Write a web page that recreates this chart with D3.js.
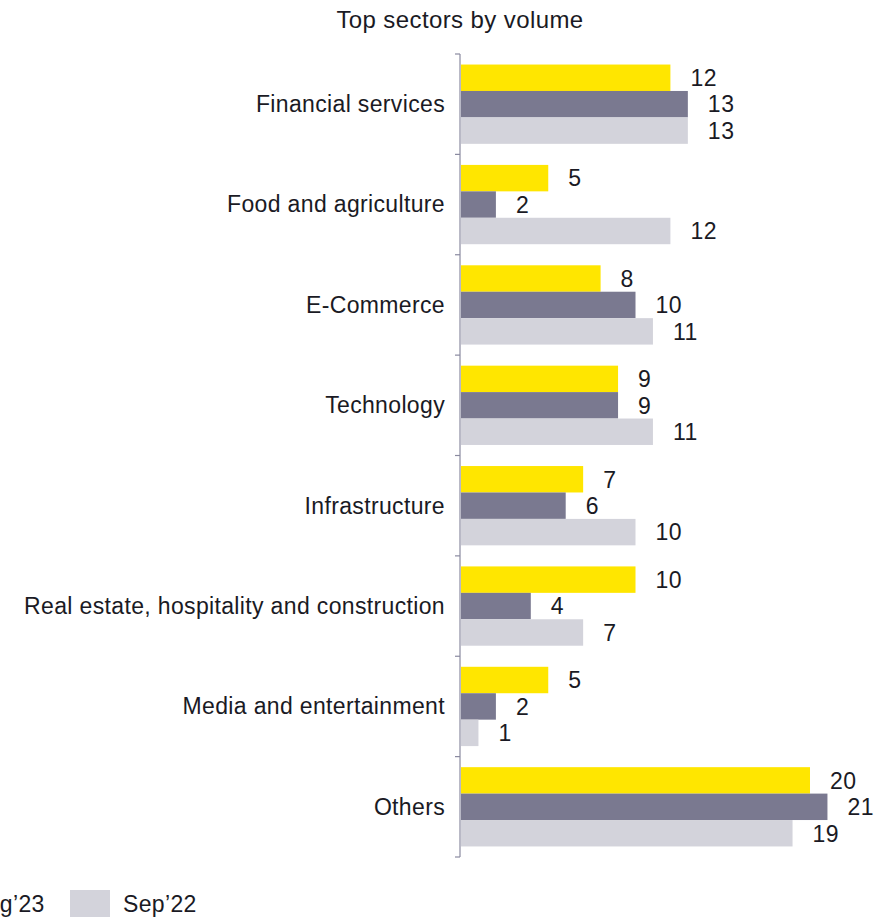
<!DOCTYPE html>
<html>
<head>
<meta charset="utf-8">
<script src="https://cdn.jsdelivr.net/npm/d3@7"></script>
<style>
  html, body { margin: 0; padding: 0; background: #fff; }
  svg { display: block; font-family: "Liberation Sans", Arial, sans-serif; }
</style>
</head>
<body>
<svg id="chart" width="888" height="920"></svg>
<script>
// Sector names (top to bottom)
const categories = [
  "Financial services",
  "Food and agriculture",
  "E-Commerce",
  "Technology",
  "Infrastructure",
  "Real estate, hospitality and construction",
  "Media and entertainment",
  "Others"
];
// Series names, in the order the bars are stacked within a group
const seriesNames = ["Sep\u201923", "Aug\u201923", "Sep\u201922"];
// Deal volume per sector for each period
const sep23 = [12, 5, 8, 9, 7, 10, 5, 20];
const aug23 = [13, 2, 10, 9, 6, 4, 2, 21];
const sep22 = [13, 12, 11, 11, 10, 7, 1, 19];
const seriesColors = ["#FFE600", "#7A7990", "#D3D3DB"];

const series = [sep23, aug23, sep22];
const svg = d3.select("#chart");
const textColor = "#1a1a24";

const margin = { top: 54, left: 460, bottom: 63 };
const plotBottom = 920 - margin.bottom;

const y0 = d3.scaleBand()
  .domain(categories)
  .range([margin.top, plotBottom])
  .paddingInner(0.21)
  .paddingOuter(0.105);

const y1 = d3.scaleBand()
  .domain(seriesNames)
  .range([0, y0.bandwidth()]);

const x = d3.scaleLinear()
  .domain([0, 21])
  .range([margin.left + 1, margin.left + 1 + 21 * 17.45]);

// Title
svg.append("text")
  .attr("x", 460)
  .attr("y", 28)
  .attr("text-anchor", "middle")
  .attr("font-size", 24)
  .attr("letter-spacing", 0.4)
  .attr("fill", textColor)
  .text("Top sectors by volume");

// Bars and value labels
const groups = svg.append("g").selectAll("g")
  .data(categories)
  .join("g")
  .attr("transform", d => `translate(0,${y0(d)})`);

groups.selectAll("rect")
  .data((d, i) => seriesNames.map((s, k) => ({ s, v: series[k][i], c: seriesColors[k] })))
  .join("rect")
  .attr("x", x(0))
  .attr("y", d => y1(d.s))
  .attr("width", d => x(d.v) - x(0))
  .attr("height", y1.bandwidth())
  .attr("fill", d => d.c);

groups.selectAll("text")
  .data((d, i) => seriesNames.map((s, k) => ({ s, v: series[k][i] })))
  .join("text")
  .attr("x", d => x(d.v) + 20)
  .attr("y", d => y1(d.s) + y1.bandwidth() / 2)
  .attr("dy", "0.36em")
  .attr("font-size", 23)
  .attr("letter-spacing", 0.5)
  .attr("fill", textColor)
  .text(d => d.v);

// Category axis: vertical line with ticks at band boundaries
const axisG = svg.append("g").attr("stroke", "#8a8aa0").attr("stroke-width", 1.2);
axisG.append("line")
  .attr("x1", margin.left).attr("x2", margin.left)
  .attr("y1", margin.top).attr("y2", plotBottom);
const boundaries = categories.map(c => y0(c) - y0.step() * y0.paddingInner() / 2)
  .concat([plotBottom]);
axisG.selectAll("line.tick")
  .data(boundaries)
  .join("line")
  .attr("class", "tick")
  .attr("x1", margin.left - 5).attr("x2", margin.left)
  .attr("y1", d => d).attr("y2", d => d);

svg.append("g").selectAll("text")
  .data(categories)
  .join("text")
  .attr("x", margin.left - 15)
  .attr("y", d => y0(d) + y0.bandwidth() / 2)
  .attr("dy", "0.34em")
  .attr("text-anchor", "end")
  .attr("font-size", 23)
  .attr("letter-spacing", 0.35)
  .attr("fill", textColor)
  .text(d => d);

// Legend (runs off the left edge)
const legendItems = [
  { name: seriesNames[0], color: seriesColors[0], x: -232 },
  { name: seriesNames[1], color: seriesColors[1], x: -82 },
  { name: seriesNames[2], color: seriesColors[2], x: 70 }
];
const lg = svg.append("g").selectAll("g")
  .data(legendItems)
  .join("g")
  .attr("transform", d => `translate(${d.x},890)`);
lg.append("rect")
  .attr("width", 40).attr("height", 27)
  .attr("fill", d => d.color);
lg.append("text")
  .attr("x", 53).attr("y", 22)
  .attr("font-size", 23)
  .attr("letter-spacing", 0.35)
  .attr("fill", textColor)
  .text(d => d.name);
</script>
</body>
</html>
